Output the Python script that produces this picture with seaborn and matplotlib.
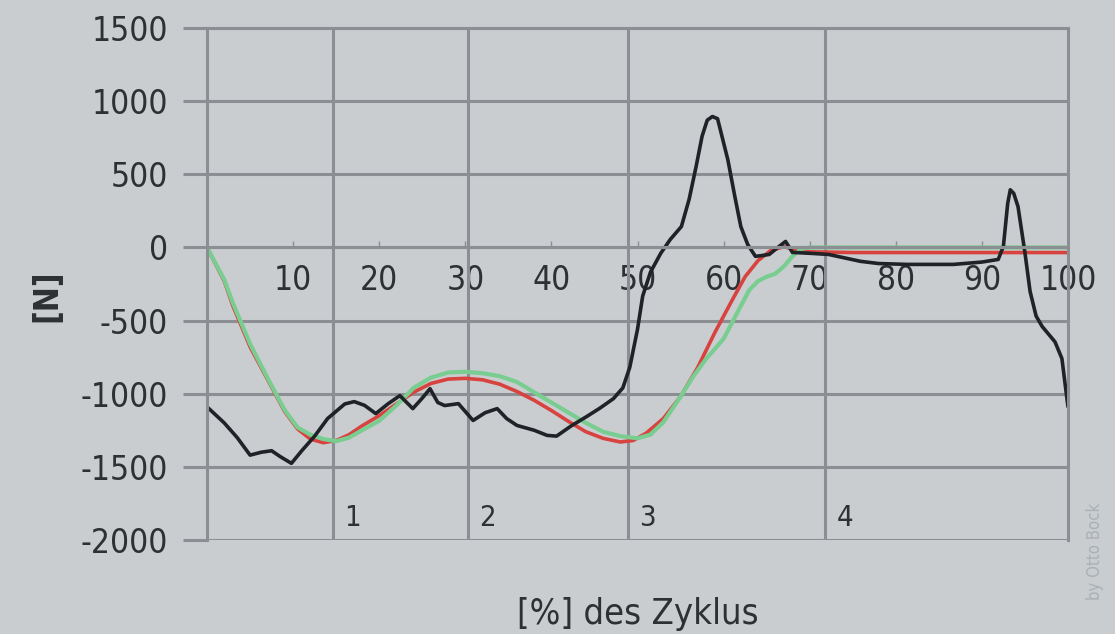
import numpy as np
import matplotlib.pyplot as plt
import pandas as pd
import seaborn as sns

# Bodenreaktionskraft ueber den Gangzyklus
black_x = [0, 2, 3.5, 5, 6.3, 7.5, 8.5, 9.8, 11, 12.5, 14, 15, 16, 17.1, 18.3, 19.6,
           21, 22.4, 23.9, 25, 25.9, 26.8, 27.6, 29.2, 30.9, 32.3, 33.7, 34.8, 36,
           38, 39.5, 40.6, 42.3, 44.1, 45.6, 47.2, 48.3, 49.1, 50, 50.6, 51.5, 52.7,
           53.8, 55.1, 56, 56.8, 57.5, 58.1, 58.7, 59.3, 60.5, 61.3, 62, 62.8, 63.7,
           64.5, 65.3, 66.3, 67.2, 68, 70, 72.2, 75.9, 78, 81.3, 86.7, 90, 91.9,
           92.5, 93, 93.3, 93.7, 94.2, 95, 95.6, 96.3, 97, 98.5, 99.3, 100]
black_y = [-1090, -1200, -1300, -1420, -1400, -1390, -1430, -1476, -1390, -1290,
           -1170, -1120, -1070, -1054, -1080, -1136, -1070, -1013, -1102, -1030,
           -966, -1060, -1081, -1068, -1183, -1130, -1102, -1170, -1217, -1250,
           -1285, -1290, -1220, -1156, -1100, -1034, -960, -820, -560, -333, -170,
           -40, 54, 143, 330, 551, 760, 870, 895, 880, 598, 350, 143, 20, -61,
           -55, -48, 0, 41, -34, -40, -48, -95, -110, -116, -116, -100, -82,
           7, 300, 394, 370, 279, -34, -300, -469, -540, -646, -760, -1088]

red_x = [0, 2, 3, 5, 7, 9, 10.5, 12, 13.5, 15, 16.5, 18, 20, 22, 24, 26, 28, 30,
         32, 34, 36, 38, 40, 42, 44, 46, 48, 49.5, 51, 53, 55, 57, 59, 61, 62.5,
         64, 65.5, 67, 68, 70, 75, 80, 90, 100]
red_y = [0, -230, -400, -680, -900, -1120, -1240, -1310, -1335, -1320, -1280,
         -1220, -1150, -1070, -990, -930, -900, -895, -905, -935, -985, -1045,
         -1115, -1190, -1260, -1305, -1330, -1320, -1270, -1170, -1020, -820,
         -580, -360, -200, -90, -20, 5, -10, -30, -35, -35, -35, -35]

green_x = [0, 2, 3, 5, 7, 9, 10.5, 12, 13.5, 15, 16.5, 18, 20, 22, 24, 26, 28, 30,
           32, 34, 36, 38, 40, 42, 44, 46, 48, 50, 51.5, 53, 55, 56.5, 58, 60, 62,
           63, 64, 65, 66, 67, 68, 69, 70, 80, 100]
green_y = [0, -220, -380, -660, -890, -1110, -1230, -1280, -1310, -1325, -1300,
           -1250, -1185, -1080, -960, -890, -855, -850, -860, -880, -920, -990,
           -1060, -1130, -1200, -1260, -1290, -1305, -1280, -1195, -1020, -880,
           -760, -625, -400, -290, -230, -200, -180, -130, -60, -10, 0, 0, 0]

x_ticks = [10, 20, 30, 40, 50, 60, 70, 80, 90, 100]
y_ticks = [-2000, -1500, -1000, -500, 0, 500, 1000, 1500]
phase_x = [14.6, 30.3, 48.9, 71.8]
phase_labels = ['1', '2', '3', '4']

bg = '#c9cdd0'
grid = '#8b8f93'
txt = '#2e3033'

sns.set_style('white')
plt.rcParams['font.family'] = ['DejaVu Sans']
plt.rcParams['font.stretch'] = 'condensed'

fig = plt.figure(figsize=(11.15, 6.34), dpi=100, facecolor=bg)
ax = fig.add_axes([0.1857, 0.1483, 0.7721, 0.8075])
ax.set_facecolor(bg)

# Gitter und Phasengrenzen
ax.set_yticks(y_ticks)
ax.set_yticklabels([str(v) for v in y_ticks])
ax.yaxis.grid(True, color=grid, lw=2.2)
for p in phase_x:
    ax.axvline(p, color=grid, lw=2.2, zorder=1)
for p, lab in zip(phase_x, phase_labels):
    ax.text(p + 1.3, -1850, lab, fontsize=21, color=txt, va='center', ha='left')

red = pd.DataFrame({'x': red_x, 'y': red_y})
green = pd.DataFrame({'x': green_x, 'y': green_y})
black = pd.DataFrame({'x': black_x, 'y': black_y})
sns.lineplot(data=red, x='x', y='y', color='#d8423f', lw=2.6, estimator=None, sort=False, ax=ax)
sns.lineplot(data=green, x='x', y='y', color='#79cd91', lw=3.0, estimator=None, sort=False, ax=ax)
sns.lineplot(data=black, x='x', y='y', color='#1f2327', lw=2.6, estimator=None, sort=False, ax=ax)

ax.set_xlim(0, 100)
ax.set_ylim(-2000, 1500)
ax.set_xticks(x_ticks)
ax.set_xticklabels([str(v) for v in x_ticks])

for s in ['left', 'right', 'top', 'bottom']:
    ax.spines[s].set_visible(True)
    ax.spines[s].set_color(grid)
    ax.spines[s].set_linewidth(2.2)
ax.spines['bottom'].set_position(('data', 0))

ax.tick_params(axis='y', direction='out', length=17, width=2.2, color=grid,
               pad=11, labelsize=24, labelcolor=txt, left=True)
ax.tick_params(axis='x', direction='in', length=4, width=1, color=grid,
               pad=12, labelsize=24, labelcolor=txt, bottom=True)

ax.set_xlabel('[%] des Zyklus', fontsize=26, color=txt)
ax.xaxis.set_label_coords(0.5, -0.112)
ax.set_ylabel('[N]', fontsize=24, fontweight='bold', color=txt)
ax.yaxis.set_label_coords(-0.167, 0.478)

fig.text(0.982, 0.13, 'by Otto Bock', rotation=90, fontsize=12, color='#aab0b4',
         ha='center', va='center')

plt.savefig('out.png', dpi=100, facecolor=bg)
